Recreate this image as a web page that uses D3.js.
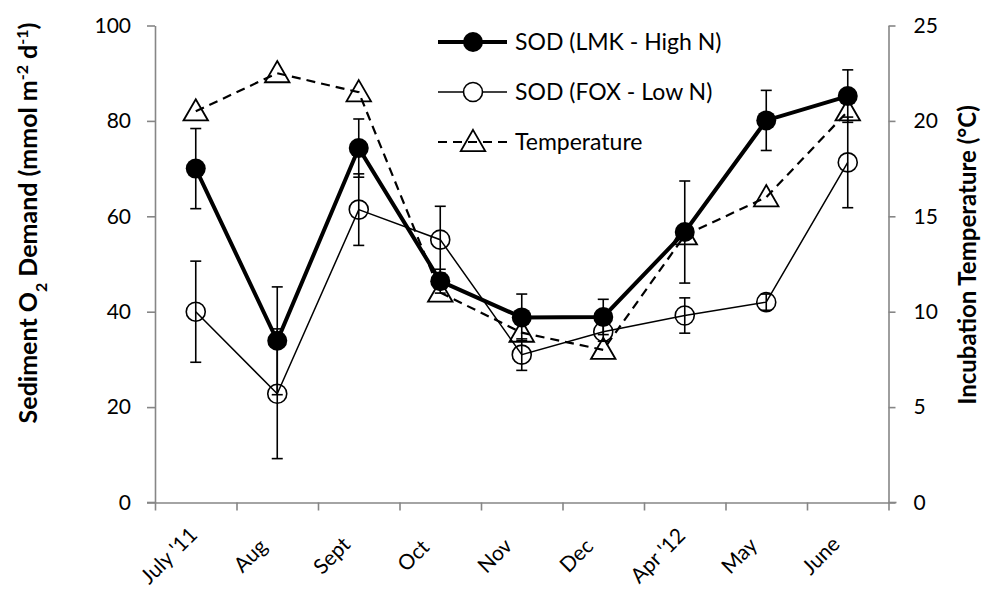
<!DOCTYPE html>
<html>
<head>
<meta charset="UTF-8">
<script src="https://cdn.jsdelivr.net/npm/d3@7"></script>
<style>
  body { margin: 0; background: #fff; }
  svg text { font-family: Lato, "Open Sans", sans-serif; fill: #000; }
</style>
</head>
<body>
<div id="container"></div>
<script>
// data
const months = ["July '11", "Aug", "Sept", "Oct", "Nov", "Dec", "Apr '12", "May", "June"];
const sodLMK = [70, 33.9, 74.3, 46.4, 38.8, 38.9, 56.7, 80.1, 85.2];
const sodLMKErr = [8.4, 11.3, 6.1, 2.5, 4.9, 3.7, 10.7, 6.3, 5.5];
const sodFOX = [40, 22.8, 61.4, 55.1, 31, 35.8, 39.2, 42, 71.3];
const sodFOXErr = [10.6, 13.6, 7.5, 7, 3.3, 2, 3.7, 1.7, 9.5];
const temperature = [20.5, 22.5, 21.5, 11, 8.9, 8, 14, 16, 20.5];
const leftTicks = [0, 20, 40, 60, 80, 100];
const rightTicks = [0, 5, 10, 15, 20, 25];

const width = 983, height = 605;
const plot = { left: 155, right: 888.5, top: 25.5, bottom: 502.5 };
const axisColor = "#868686";

const svg = d3.select("#container").append("svg")
  .attr("width", width).attr("height", height);

const x = d3.scaleBand().domain(months).range([plot.left, plot.right]);
const xEdges = d3.scaleLinear().domain([0, months.length]).range([plot.left, plot.right]);
const y = d3.scaleLinear().domain([0, 100]).range([plot.bottom, plot.top]);
const y2 = d3.scaleLinear().domain([0, 25]).range([plot.bottom, plot.top]);
const cx = d => x(d) + x.bandwidth() / 2;

// axes
const gLeft = svg.append("g").attr("transform", `translate(${plot.left},0)`)
  .call(d3.axisLeft(y).tickValues(leftTicks).tickSize(8).tickPadding(16).tickSizeOuter(0));
const gRight = svg.append("g").attr("transform", `translate(${plot.right},0)`)
  .call(d3.axisRight(y2).tickValues(rightTicks).tickSize(7).tickPadding(18).tickSizeOuter(0));
const gBottom = svg.append("g").attr("transform", `translate(0,${plot.bottom})`)
  .call(d3.axisBottom(xEdges).tickValues(d3.range(months.length + 1)).tickFormat("").tickSize(8).tickSizeOuter(0));
[gLeft, gRight, gBottom].forEach(g => {
  g.selectAll("path, line").attr("stroke", axisColor).attr("stroke-width", 1.6);
  g.selectAll("text").style("font-size", "21px").attr("fill", "#000");
});
// zero ticks continue along the x axis
gBottom.append("line").attr("x1", plot.right).attr("x2", plot.right + 8)
  .attr("stroke", axisColor).attr("stroke-width", 1.6);
gBottom.append("line").attr("x1", plot.left - 8).attr("x2", plot.left)
  .attr("stroke", axisColor).attr("stroke-width", 1.6);

// month labels, rotated about their centres
svg.append("g").selectAll("text").data(months).enter().append("text")
  .attr("transform", d => `translate(${cx(d) - 27},${plot.bottom + 53}) rotate(-45)`)
  .attr("text-anchor", "middle").attr("dy", "0.35em")
  .style("font-size", "21px")
  .text(d => d);

// axis titles
const yt = svg.append("text")
  .attr("transform", "translate(37,223) rotate(-90)")
  .attr("text-anchor", "middle").style("font-size", "25px").style("font-weight", "bold");
yt.append("tspan").text("Sediment O");
yt.append("tspan").attr("baseline-shift", "sub").style("font-size", "16px").text("2");
yt.append("tspan").text(" Demand (mmol m");
yt.append("tspan").attr("baseline-shift", "super").style("font-size", "16px").text("-2");
yt.append("tspan").text(" d");
yt.append("tspan").attr("baseline-shift", "super").style("font-size", "16px").text("-1");
yt.append("tspan").text(")");

svg.append("text")
  .attr("transform", "translate(976,255) rotate(-90)")
  .attr("text-anchor", "middle").style("font-size", "24px").style("font-weight", "bold")
  .text("Incubation Temperature (°C)");

// lines
const lineL = d3.line().x((d, i) => cx(months[i])).y(d => y(d));
const lineT = d3.line().x((d, i) => cx(months[i])).y(d => y2(d));

svg.append("path").attr("d", lineT(temperature))
  .attr("fill", "none").attr("stroke", "#000").attr("stroke-width", 2.2)
  .attr("stroke-dasharray", "9,6");
svg.append("path").attr("d", lineL(sodFOX))
  .attr("fill", "none").attr("stroke", "#000").attr("stroke-width", 1.5);
svg.append("path").attr("d", lineL(sodLMK))
  .attr("fill", "none").attr("stroke", "#000").attr("stroke-width", 4);

// error bars
function errorBars(vals, errs) {
  const g = svg.append("g").attr("stroke", "#000").attr("stroke-width", 1.6);
  vals.forEach((v, i) => {
    const px = cx(months[i]);
    const t = y(v + errs[i]), b = y(v - errs[i]);
    g.append("line").attr("x1", px).attr("x2", px).attr("y1", t).attr("y2", b);
    g.append("line").attr("x1", px - 5.5).attr("x2", px + 5.5).attr("y1", t).attr("y2", t);
    g.append("line").attr("x1", px - 5.5).attr("x2", px + 5.5).attr("y1", b).attr("y2", b);
  });
}
errorBars(sodFOX, sodFOXErr);
errorBars(sodLMK, sodLMKErr);

// markers
const tri = d3.symbol().type(d3.symbolTriangle).size(260);
svg.append("g").selectAll("path").data(temperature).enter().append("path")
  .attr("d", tri)
  .attr("transform", (d, i) => `translate(${cx(months[i])},${y2(d) + 2})`)
  .attr("fill", "none").attr("stroke", "#000").attr("stroke-width", 1.8);
svg.append("g").selectAll("circle").data(sodFOX).enter().append("circle")
  .attr("cx", (d, i) => cx(months[i])).attr("cy", d => y(d)).attr("r", 9.5)
  .attr("fill", "none").attr("stroke", "#000").attr("stroke-width", 1.6);
svg.append("g").selectAll("circle").data(sodLMK).enter().append("circle")
  .attr("cx", (d, i) => cx(months[i])).attr("cy", d => y(d)).attr("r", 10)
  .attr("fill", "#000");

// legend
const legendItems = [
  { label: "SOD (LMK - High N)", width: 4, dash: null, marker: "filled" },
  { label: "SOD (FOX - Low N)", width: 1.5, dash: null, marker: "open" },
  { label: "Temperature", width: 2.2, dash: "9,6", marker: "triangle" }
];
const lg = svg.append("g").attr("transform", "translate(438,42)");
legendItems.forEach((it, i) => {
  const row = lg.append("g").attr("transform", `translate(0,${i * 50})`);
  row.append("line").attr("x1", 0).attr("x2", 69)
    .attr("stroke", "#000").attr("stroke-width", it.width)
    .attr("stroke-dasharray", it.dash);
  if (it.marker === "filled") row.append("circle").attr("cx", 35).attr("r", 10).attr("fill", "#000");
  if (it.marker === "open") row.append("circle").attr("cx", 35).attr("r", 9.5)
    .attr("fill", "#fff").attr("stroke", "#000").attr("stroke-width", 1.6);
  if (it.marker === "triangle") row.append("path").attr("d", tri).attr("transform", "translate(35,2)")
    .attr("fill", "none").attr("stroke", "#000").attr("stroke-width", 1.8);
  row.append("text").attr("x", 77).attr("dy", "0.36em").style("font-size", "23px").text(it.label);
});
</script>
</body>
</html>
